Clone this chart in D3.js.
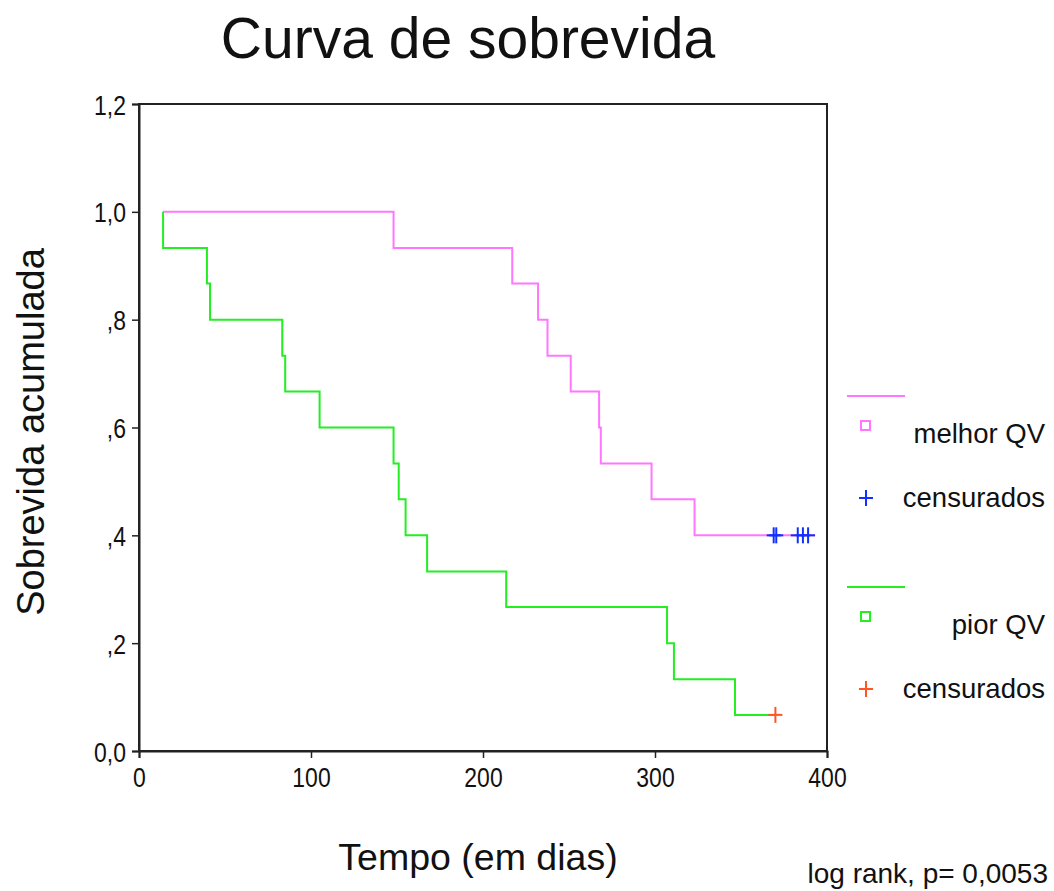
<!DOCTYPE html>
<html>
<head>
<meta charset="utf-8">
<script src="https://cdn.jsdelivr.net/npm/d3@7"></script>
<style>
  body { margin: 0; background: #fff; }
  text { font-family: "Liberation Sans", Arial, sans-serif; fill: #111; }
</style>
</head>
<body>
<div class="viz"></div>
<script>
// tempo (dias) e sobrevida acumulada
var melhorTempo = [14, 148, 217, 232, 237.5, 251, 267.5, 268.5, 298, 323, 393];
var melhorSobrev = [1.0, 0.933, 0.867, 0.8, 0.733, 0.667, 0.6, 0.533, 0.467, 0.4, 0.4];
var melhorCensura = [369, 370.5, 383, 386, 389];

var piorTempo = [14, 14, 39.5, 41.3, 83.3, 85, 105, 148, 151, 155, 167.5, 213.5, 307, 311, 346.5, 370];
var piorSobrev = [1.0, 0.933, 0.867, 0.8, 0.733, 0.667, 0.6, 0.533, 0.467, 0.4, 0.333, 0.267, 0.2, 0.133, 0.067, 0.067];
var piorCensura = [370];

var xTicks = [0, 100, 200, 300, 400];
var yTicks = [0, 0.2, 0.4, 0.6, 0.8, 1.0, 1.2];
var yTickLabels = ["0,0", ",2", ",4", ",6", ",8", "1,0", "1,2"];

var width = 1054,
    height = 891;

var svg = d3.select(".viz").append("svg")
    .attr("width", width)
    .attr("height", height);

var x = d3.scaleLinear().domain([0, 400]).range([139, 827]);
var y = d3.scaleLinear().domain([0, 1.2]).range([751, 104]);

var pink = "#ff77ff",
    green = "#22ee22",
    blue = "#1030ff",
    orange = "#ff5522";

// moldura
svg.append("rect")
    .attr("x", x(0)).attr("y", y(1.2))
    .attr("width", x(400) - x(0)).attr("height", y(0) - y(1.2))
    .attr("fill", "none").attr("stroke", "#222").attr("stroke-width", 2);

var yAxis = d3.axisLeft(y)
    .tickValues(yTicks)
    .tickSize(7)
    .tickFormat(function(d, i) { return yTickLabels[i]; });

var xAxis = d3.axisBottom(x)
    .tickValues(xTicks)
    .tickSize(7)
    .tickFormat(d3.format("d"));

var gy = svg.append("g").attr("transform", "translate(" + x(0) + ",0)").call(yAxis);
var gx = svg.append("g").attr("transform", "translate(0," + y(0) + ")").call(xAxis);

[gy, gx].forEach(function(g) {
    g.select(".domain").attr("stroke", "#222").attr("stroke-width", 2);
    g.selectAll(".tick line").attr("stroke", "#222").attr("stroke-width", 1.5);
    g.selectAll(".tick text")
        .style("font-size", "28px")
        .attr("fill", "#111");
});
// rótulos estreitos, como no original
gy.selectAll(".tick text").attr("x", 0).attr("dy", "0.36em")
    .attr("transform", "translate(-13,0) scale(0.82,1)");
gx.selectAll(".tick text").attr("y", 0)
    .attr("transform", "translate(0,16) scale(0.82,1)");

function zip(ts, ss) {
    return ts.map(function(t, i) { return [t, ss[i]]; });
}

var line = d3.line()
    .x(function(d) { return x(d[0]); })
    .y(function(d) { return y(d[1]); })
    .curve(d3.curveStepAfter);

svg.append("path")
    .datum(zip(melhorTempo, melhorSobrev))
    .attr("d", line)
    .attr("fill", "none").attr("stroke", pink).attr("stroke-width", 2);

svg.append("path")
    .datum(zip(piorTempo, piorSobrev))
    .attr("d", line)
    .attr("fill", "none").attr("stroke", green).attr("stroke-width", 2);

function plus(g, cx, cy, color) {
    g.append("line").attr("x1", cx - 7).attr("x2", cx + 7).attr("y1", cy).attr("y2", cy)
        .attr("stroke", color).attr("stroke-width", 2);
    g.append("line").attr("x1", cx).attr("x2", cx).attr("y1", cy - 8).attr("y2", cy + 8)
        .attr("stroke", color).attr("stroke-width", 2);
}

var marks = svg.append("g");
melhorCensura.forEach(function(t) { plus(marks, x(t), y(0.4), blue); });
piorCensura.forEach(function(t) { plus(marks, x(t), y(0.067), orange); });

// legenda
var leg = svg.append("g");
function legendBlock(y0, color, label, censColor) {
    leg.append("line").attr("x1", 847).attr("x2", 905).attr("y1", y0).attr("y2", y0)
        .attr("stroke", color).attr("stroke-width", 2);
    leg.append("rect").attr("x", 861).attr("y", y0 + 25).attr("width", 9).attr("height", 9)
        .attr("fill", "none").attr("stroke", color).attr("stroke-width", 2);
    leg.append("text").attr("x", 1045).attr("y", y0 + 47)
        .attr("text-anchor", "end").style("font-size", "27.5px").text(label);
    plus(leg, 866, y0 + 102, censColor);
    leg.append("text").attr("x", 1045).attr("y", y0 + 111)
        .attr("text-anchor", "end").style("font-size", "27.5px").text("censurados");
}
legendBlock(396, pink, "melhor QV", blue);
legendBlock(587, green, "pior QV", orange);

svg.append("text")
    .attr("x", 468).attr("y", 58)
    .attr("text-anchor", "middle")
    .style("font-size", "57px")
    .text("Curva de sobrevida");

svg.append("text")
    .attr("transform", "translate(44,432) rotate(-90)")
    .attr("text-anchor", "middle")
    .style("font-size", "38px")
    .text("Sobrevida acumulada");

svg.append("text")
    .attr("x", 478).attr("y", 870)
    .attr("text-anchor", "middle")
    .style("font-size", "37.5px")
    .text("Tempo (em dias)");

svg.append("text")
    .attr("x", 1048).attr("y", 883)
    .attr("text-anchor", "end")
    .style("font-size", "28px")
    .text("log rank, p= 0,0053");
</script>
</body>
</html>
